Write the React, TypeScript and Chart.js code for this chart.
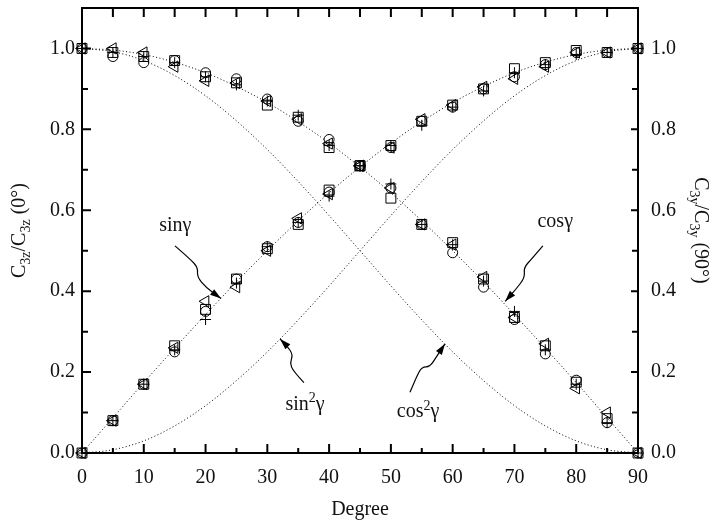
import React, { useEffect, useRef } from 'react';
import { Chart, registerables } from 'chart.js';
Chart.register(...registerables);

const FONT = '"Liberation Serif", "Times New Roman", serif';

// ---- data ----
const degrees = [0, 5, 10, 15, 20, 25, 30, 35, 40, 45, 50, 55, 60, 65, 70, 75, 80, 85, 90];

// theoretical curves (read at 5° steps)
const sinCurve = [0, 0.087, 0.174, 0.259, 0.342, 0.423, 0.5, 0.574, 0.643, 0.707, 0.766, 0.819, 0.866, 0.906, 0.94, 0.966, 0.985, 0.996, 1.0];
const cosCurve = [1.0, 0.996, 0.985, 0.966, 0.94, 0.906, 0.866, 0.819, 0.766, 0.707, 0.643, 0.574, 0.5, 0.423, 0.342, 0.259, 0.174, 0.087, 0];
const sin2Curve = [0, 0.008, 0.03, 0.067, 0.117, 0.179, 0.25, 0.329, 0.413, 0.5, 0.587, 0.671, 0.75, 0.821, 0.883, 0.933, 0.97, 0.992, 1.0];
const cos2Curve = [1.0, 0.992, 0.97, 0.933, 0.883, 0.821, 0.75, 0.671, 0.587, 0.5, 0.413, 0.329, 0.25, 0.179, 0.117, 0.067, 0.03, 0.008, 0];

// measured points, sin branch
const squareSin = [0, 0.08, 0.17, 0.265, 0.355, 0.43, 0.505, 0.565, 0.65, 0.71, 0.76, 0.82, 0.86, 0.9, 0.95, 0.965, 0.995, 0.99, 1.0];
const circleSin = [0, 0.08, 0.17, 0.25, 0.35, 0.43, 0.51, 0.57, 0.645, 0.71, 0.755, 0.82, 0.855, 0.9, 0.93, 0.96, 0.99, 0.99, 1.0];
const triangleSin = [0, 0.08, 0.17, 0.26, 0.375, 0.41, 0.5, 0.58, 0.64, 0.71, 0.755, 0.825, 0.86, 0.905, 0.925, 0.955, 0.99, 0.99, 1.0];
const plusSin = [0, 0.08, 0.17, 0.255, 0.33, 0.42, 0.51, 0.57, 0.635, 0.71, 0.76, 0.81, 0.855, 0.895, 0.94, 0.96, 0.985, 0.99, 1.0];

// measured points, cos branch
const squareCos = [1.0, 0.99, 0.98, 0.97, 0.93, 0.915, 0.86, 0.83, 0.755, 0.71, 0.63, 0.565, 0.52, 0.43, 0.335, 0.265, 0.175, 0.085, 0];
const circleCos = [1.0, 0.98, 0.965, 0.97, 0.94, 0.925, 0.875, 0.82, 0.775, 0.71, 0.655, 0.565, 0.495, 0.41, 0.33, 0.245, 0.18, 0.075, 0];
const triangleCos = [1.0, 1.0, 0.99, 0.955, 0.92, 0.915, 0.87, 0.825, 0.765, 0.71, 0.655, 0.565, 0.515, 0.435, 0.335, 0.27, 0.16, 0.1, 0];
const plusCos = [1.0, 0.99, 0.98, 0.965, 0.93, 0.91, 0.87, 0.835, 0.76, 0.71, 0.665, 0.565, 0.515, 0.425, 0.35, 0.255, 0.17, 0.075, 0];

const xLabelTicks = [0, 10, 20, 30, 40, 50, 60, 70, 80, 90];
const xTickMarks = [0, 5, 10, 15, 20, 25, 30, 35, 40, 45, 50, 55, 60, 65, 70, 75, 80, 85, 90];
const yLabelTicks = [0, 0.2, 0.4, 0.6, 0.8, 1.0];
const yTickMarks = [0, 0.1, 0.2, 0.3, 0.4, 0.5, 0.6, 0.7, 0.8, 0.9, 1.0];

const xTitle = 'Degree';
type Seg = { t: string; s?: 'sub' | 'sup' };
const leftTitle: Seg[] = [{ t: 'C' }, { t: '3z', s: 'sub' }, { t: '/C' }, { t: '3z', s: 'sub' }, { t: ' (0°)' }];
const rightTitle: Seg[] = [{ t: 'C' }, { t: '3y', s: 'sub' }, { t: '/C' }, { t: '3y', s: 'sub' }, { t: ' (90°)' }];

// annotations (in data coordinates)
const annotations: { label: Seg[]; at: [number, number]; path: [number, number][] }[] = [
  {
    label: [{ t: 'sinγ' }],
    at: [15.1, 0.566],
    path: [[15.05, 0.512], [17.48, 0.48], [18.78, 0.458], [18.61, 0.436], [20.07, 0.409], [22.5, 0.382]],
  },
  {
    label: [{ t: 'cosγ' }],
    at: [76.6, 0.574],
    path: [[74.6, 0.512], [72.8, 0.48], [71.5, 0.458], [71.7, 0.434], [70.2, 0.404], [68.5, 0.375]],
  },
  {
    label: [{ t: 'sin' }, { t: '2', s: 'sup' }, { t: 'γ' }],
    at: [36.1, 0.123],
    path: [[35.93, 0.174], [34.15, 0.203], [33.67, 0.223], [34.15, 0.243], [33.18, 0.265], [32.05, 0.282]],
  },
  {
    label: [{ t: 'cos' }, { t: '2', s: 'sup' }, { t: 'γ' }],
    at: [54.4, 0.105],
    path: [[53.09, 0.15], [54.22, 0.191], [55.03, 0.213], [56.33, 0.213], [57.46, 0.24], [58.76, 0.27]],
  },
];

// ---- helpers ----
function segFont(size: number, s?: string) {
  return `${s ? Math.round(size * 0.68) : size}px ${FONT}`;
}
function richWidth(ctx: CanvasRenderingContext2D, segs: Seg[], size: number) {
  let w = 0;
  for (const sg of segs) {
    ctx.font = segFont(size, sg.s);
    w += ctx.measureText(sg.t).width;
  }
  return w;
}
function drawRichCentered(ctx: CanvasRenderingContext2D, segs: Seg[], cx: number, cy: number, size: number) {
  const w = richWidth(ctx, segs, size);
  let x = cx - w / 2;
  const base = cy + size * 0.33;
  ctx.textAlign = 'left';
  ctx.textBaseline = 'alphabetic';
  for (const sg of segs) {
    ctx.font = segFont(size, sg.s);
    const dy = sg.s === 'sub' ? size * 0.25 : sg.s === 'sup' ? -size * 0.38 : 0;
    ctx.fillText(sg.t, x, base + dy);
    x += ctx.measureText(sg.t).width;
  }
}

const pairs = (ys: number[]) => degrees.map((d, i) => ({ x: d, y: ys[i] }));

const framePlugin = {
  id: 'frameTicks',
  afterDatasetsDraw(chart: any) {
    const { ctx, chartArea, scales } = chart;
    const { left, right, top, bottom } = chartArea;
    const xs = scales.x;
    const ys = scales.y;
    ctx.save();
    ctx.strokeStyle = '#000';
    ctx.lineWidth = 2;
    ctx.strokeRect(left, top, right - left, bottom - top);
    ctx.beginPath();
    for (const v of xTickMarks) {
      const p = xs.getPixelForValue(v);
      const major = v % 10 === 0;
      ctx.moveTo(p, bottom);
      ctx.lineTo(p, bottom - (major ? 9 : 5));
      ctx.moveTo(p, top);
      ctx.lineTo(p, top + 9);
    }
    for (const v of yTickMarks) {
      const p = ys.getPixelForValue(v);
      const major = Math.round(v * 10) % 2 === 0;
      ctx.moveTo(left, p);
      ctx.lineTo(left + (major ? 9 : 6), p);
      ctx.moveTo(right, p);
      ctx.lineTo(right - (major ? 7 : 6), p);
    }
    ctx.stroke();
    ctx.restore();
  },
  afterDraw(chart: any) {
    const { ctx, chartArea, scales } = chart;
    const xs = scales.x;
    const ys = scales.y;
    const midY = (chartArea.top + chartArea.bottom) / 2;
    ctx.save();
    ctx.fillStyle = '#111';
    // axis titles
    drawRichCentered(ctx, [{ t: xTitle }], (chartArea.left + chartArea.right) / 2, 508, 20);
    ctx.save();
    ctx.translate(18, midY);
    ctx.rotate(-Math.PI / 2);
    drawRichCentered(ctx, leftTitle, 0, 0, 20);
    ctx.restore();
    ctx.save();
    ctx.translate(702, midY);
    ctx.rotate(Math.PI / 2);
    drawRichCentered(ctx, rightTitle, 0, 0, 20);
    ctx.restore();

    // annotations
    for (const a of annotations) {
      drawRichCentered(ctx, a.label, xs.getPixelForValue(a.at[0]), ys.getPixelForValue(a.at[1]), 20);
      const pts = a.path.map(([dx, dy]) => [xs.getPixelForValue(dx), ys.getPixelForValue(dy)]);
      ctx.strokeStyle = '#000';
      ctx.lineWidth = 1.2;
      ctx.beginPath();
      ctx.moveTo(pts[0][0], pts[0][1]);
      for (let i = 1; i < pts.length - 1; i++) {
        const mx = (pts[i][0] + pts[i + 1][0]) / 2;
        const my = (pts[i][1] + pts[i + 1][1]) / 2;
        ctx.quadraticCurveTo(pts[i][0], pts[i][1], mx, my);
      }
      const end = pts[pts.length - 1];
      const prev = pts[pts.length - 2];
      ctx.lineTo(end[0], end[1]);
      ctx.stroke();
      const ang = Math.atan2(end[1] - prev[1], end[0] - prev[0]);
      const L = 11;
      const W = 3.5;
      ctx.fillStyle = '#000';
      ctx.beginPath();
      ctx.moveTo(end[0], end[1]);
      ctx.lineTo(end[0] - L * Math.cos(ang) + W * Math.sin(ang), end[1] - L * Math.sin(ang) - W * Math.cos(ang));
      ctx.lineTo(end[0] - L * Math.cos(ang) - W * Math.sin(ang), end[1] - L * Math.sin(ang) + W * Math.cos(ang));
      ctx.closePath();
      ctx.fill();
      ctx.fillStyle = '#111';
    }
    ctx.restore();
  },
};

export default function App() {
  const ref = useRef<HTMLCanvasElement | null>(null);
  useEffect(() => {
    if (!ref.current) return;
    const curve = (ys: number[]) => ({
      type: 'line' as const,
      data: pairs(ys),
      showLine: true,
      borderColor: '#000',
      borderWidth: 1,
      borderDash: [1, 2.4],
      pointRadius: 0,
      cubicInterpolationMode: 'monotone' as const,
      fill: false,
    });
    const marker = (ys1: number[], ys2: number[], style: string, r: number, rot = 0) => ({
      type: 'scatter' as const,
      data: [...pairs(ys1), ...pairs(ys2)],
      pointStyle: style,
      pointRadius: r,
      pointRotation: rot,
      pointBorderWidth: 1,
      borderColor: '#000',
      backgroundColor: 'rgba(0,0,0,0)',
      showLine: false,
      clip: false,
    });
    const noPad = (s: any) => {
      s.paddingTop = 0;
      s.paddingBottom = 0;
    };
    const chart = new Chart(ref.current, {
      type: 'scatter',
      data: {
        datasets: [
          marker(squareSin, squareCos, 'rect', 7),
          marker(circleSin, circleCos, 'circle', 5),
          marker(triangleSin, triangleCos, 'triangle', 6.5, -90),
          marker(plusSin, plusCos, 'cross', 5.5),
          curve(sinCurve),
          curve(cosCurve),
          curve(sin2Curve),
          curve(cos2Curve),
        ] as any,
      },
      options: {
        animation: false,
        responsive: false,
        events: [],
        layout: { padding: { top: 5, left: 0, right: 0, bottom: 0 } },
        plugins: { legend: { display: false }, tooltip: { enabled: false } },
        scales: {
          x: {
            type: 'linear',
            position: 'bottom',
            min: 0,
            max: 90,
            grid: { display: false, drawTicks: false },
            border: { display: false },
            afterBuildTicks: (s: any) => {
              s.ticks = xLabelTicks.map((v) => ({ value: v }));
            },
            afterFit: (s: any) => {
              s.height = 72;
              s.paddingLeft = 0;
              s.paddingRight = 0;
            },
            ticks: {
              padding: 13,
              maxRotation: 0,
              autoSkip: false,
              color: '#111',
              font: { family: FONT, size: 20 },
              callback: (v: any) => String(v),
            },
          },
          y: {
            type: 'linear',
            position: 'left',
            min: 0,
            max: 1.1,
            grid: { display: false, drawTicks: false },
            border: { display: false },
            afterBuildTicks: (s: any) => {
              s.ticks = yLabelTicks.map((v) => ({ value: v }));
            },
            afterFit: (s: any) => {
              s.width = 82;
              noPad(s);
            },
            ticks: {
              padding: 7,
              color: '#111',
              font: { family: FONT, size: 20 },
              callback: (v: any) => Number(v).toFixed(1),
            },
          },
          y2: {
            type: 'linear',
            position: 'right',
            min: 0,
            max: 1.1,
            grid: { display: false, drawTicks: false },
            border: { display: false },
            afterBuildTicks: (s: any) => {
              s.ticks = yLabelTicks.map((v) => ({ value: v }));
            },
            afterFit: (s: any) => {
              s.width = 75;
              noPad(s);
            },
            ticks: {
              padding: 13,
              color: '#111',
              font: { family: FONT, size: 20 },
              callback: (v: any) => Number(v).toFixed(1),
            },
          },
        },
      },
      plugins: [framePlugin],
    } as any);
    return () => chart.destroy();
  }, []);
  return (
    <div style={{ position: 'fixed', left: 0, top: 0, width: 713, height: 525, background: '#fff' }}>
      <canvas ref={ref} width={713} height={525} style={{ width: 713, height: 525 }} />
    </div>
  );
}
